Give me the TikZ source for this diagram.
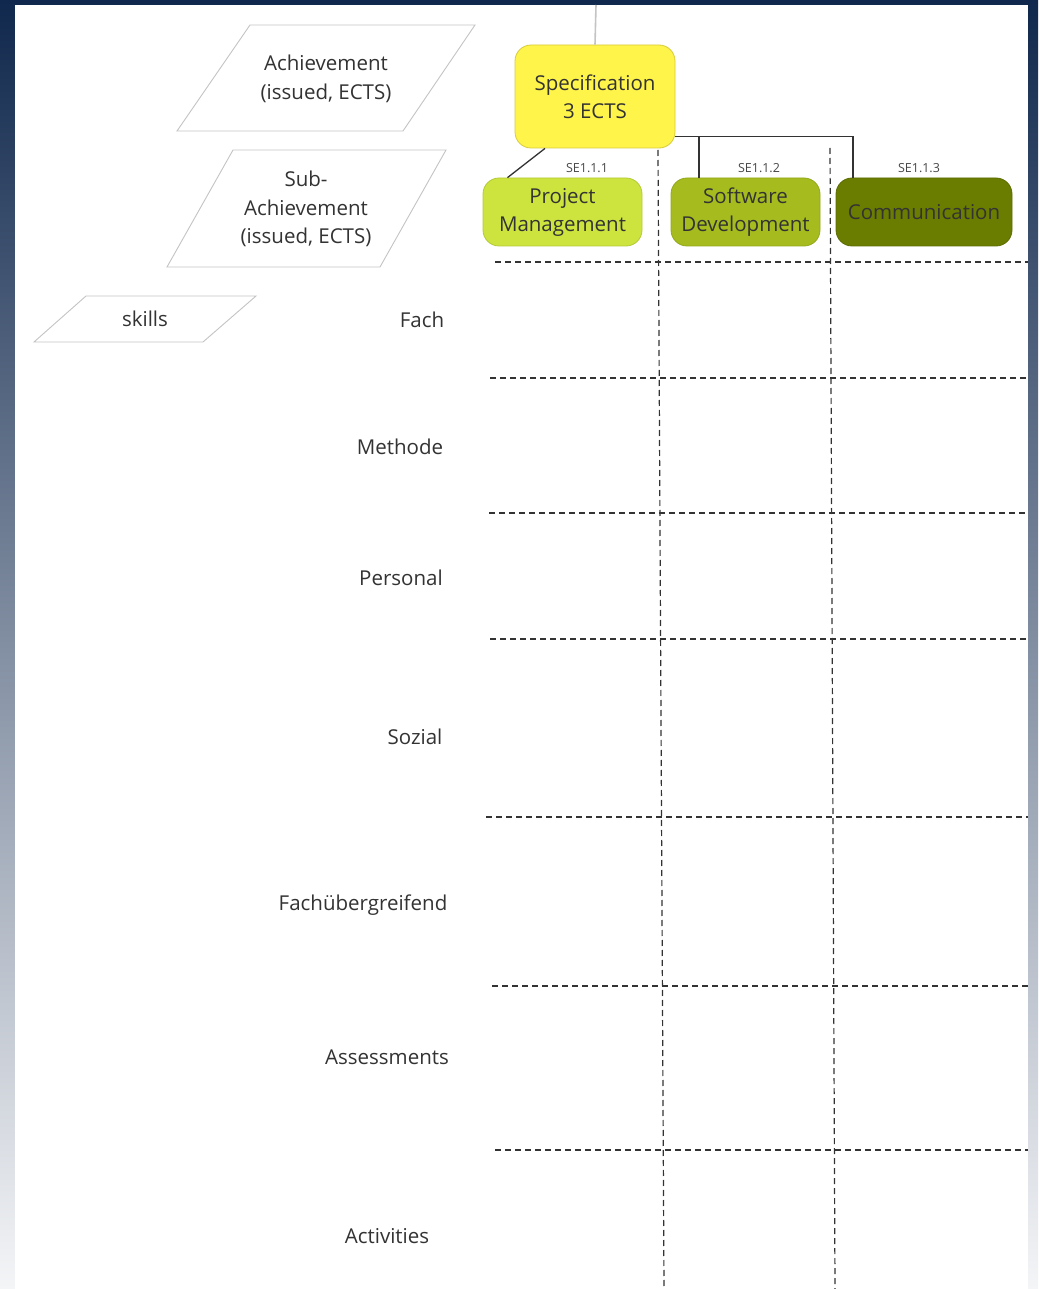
\documentclass[tikz,border=0pt]{standalone}
\usepackage{fontspec}
\setmainfont{Open Sans}
\definecolor{frameTop}{HTML}{10284D}
\definecolor{frameMid}{HTML}{5D6E8D}
\definecolor{frameBot}{HTML}{F4F5F7}
\definecolor{inkGray}{HTML}{333333}
\definecolor{specFill}{HTML}{FFF44A}
\definecolor{specDraw}{HTML}{D8CC3C}
\definecolor{pmFill}{HTML}{CDE43F}
\definecolor{pmDraw}{HTML}{B4CA36}
\definecolor{swFill}{HTML}{A6BC1E}
\definecolor{swDraw}{HTML}{93A81A}
\definecolor{comFill}{HTML}{6B7D00}
\definecolor{comDraw}{HTML}{5C6C00}
\definecolor{shapeLine}{HTML}{C4C4C4}

\begin{document}
\begin{tikzpicture}
[x=1pt,y=-1pt,
 bigBox/.style={rectangle,rounded corners=16pt,thick,align=center,
   inner sep=0pt,text=inkGray,font=\fontsize{20.5}{28}\selectfont},
 levelShape/.style={draw=shapeLine,line width=0.9pt},
 levelText/.style={align=center,text=inkGray,font=\fontsize{20.5}{28.5}\selectfont},
 rowText/.style={text=inkGray,font=\fontsize{20.5}{26}\selectfont},
 codeText/.style={text=inkGray!90,font=\fontsize{12.5}{15}\selectfont},
 connLine/.style={draw=inkGray,line width=1.3pt},
 gridLine/.style={draw=inkGray,line width=1.2pt,dash pattern=on 6pt off 4pt}]
  \useasboundingbox (0,0) rectangle (1038,1289);
  % frame and sheet
  \shade[top color=frameTop,middle color=frameMid,bottom color=frameBot]
    (0,0) rectangle (1038,1289);
  \fill[white] (15,5) rectangle (1028,1289);

  % legend shapes on the left
  \draw[levelShape] (250,25) -- (475,25) -- (403,131) -- (177,131) -- cycle;
  \node[levelText] (achieveLbl) at (326,79) {Achievement\\(issued, ECTS)};
  \draw[levelShape] (233,150) -- (446,150) -- (380,267) -- (167,267) -- cycle;
  \node[levelText] (subAchieveLbl) at (306,209) {Sub-\\Achievement\\(issued, ECTS)};
  \draw[levelShape] (86,296) -- (256,296) -- (203,342) -- (34,342) -- cycle;
  \node[levelText] (skillsLbl) at (145,319) {skills};

  % boxes
  \node[bigBox,fill=specFill,draw=specDraw,minimum width=160pt,minimum height=103pt]
    (specBox) at (595,96.5) {Specification\\3 ECTS};
  \node[bigBox,fill=pmFill,draw=pmDraw,minimum width=159pt,minimum height=68pt]
    (pmBox) at (562.5,212) {Project\\Management};
  \node[bigBox,fill=swFill,draw=swDraw,minimum width=149pt,minimum height=68pt]
    (swBox) at (745.5,212) {Software\\Development};
  \node[bigBox,fill=comFill,draw=comDraw,minimum width=176pt,minimum height=68pt]
    (comBox) at (924,212) {Communication};

  \node[codeText] (pmCode)  at (587,168) {SE1.1.1};
  \node[codeText] (swCode)  at (759,168) {SE1.1.2};
  \node[codeText] (comCode) at (919,168) {SE1.1.3};

  % connectors
  \coordinate (topEnd) at (596,5);
  \draw[draw=shapeLine,line width=1.6pt] (specBox.north) -- (topEnd);
  \draw[connLine] ([xshift=-50pt]specBox.south) -- ([xshift=-55pt]pmBox.north);
  \draw[connLine] ([yshift=-40pt]specBox.east) -| ([xshift=-71pt]comBox.north);
  \draw[connLine] ([xshift=-46.5pt]swBox.north) |- ([yshift=-40pt]specBox.east);

  % grid
  \foreach \yy/\xl in {262/495,378/490,513/489,639/490,817/486,986/492,1150/495}
    \draw[gridLine] (\xl,\yy) -- (1028,\yy);
  \draw[gridLine] (658,150) -- (664,1289);
  \draw[gridLine] (830,148) -- (835,1289);

  % row labels
  \node[rowText] (rowFach)     at (422,320)  {Fach};
  \node[rowText] (rowMethode)  at (400,447)  {Methode};
  \node[rowText] (rowPersonal) at (401,578)  {Personal};
  \node[rowText] (rowSozial)   at (415,737)  {Sozial};
  \node[rowText] (rowFachUeb)  at (363,905)  {Fachübergreifend};
  \node[rowText] (rowAssess)   at (387,1057) {Assessments};
  \node[rowText] (rowActiv)    at (387,1236) {Activities};
\end{tikzpicture}
\end{document}
